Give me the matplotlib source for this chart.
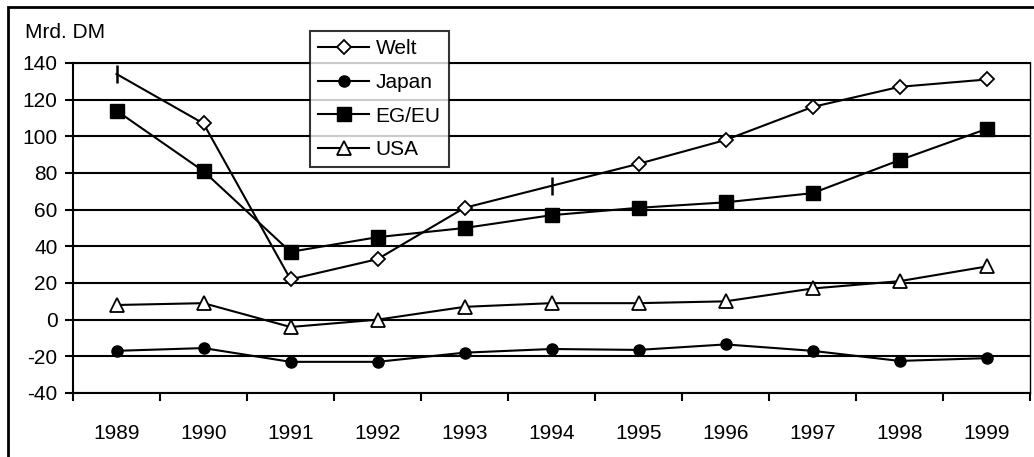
import matplotlib.pyplot as plt
from matplotlib.patches import Rectangle

plt.rcParams['font.family'] = ['Liberation Sans', 'DejaVu Sans']

years = ['1989', '1990', '1991', '1992', '1993', '1994', '1995', '1996', '1997', '1998', '1999']
welt = [134, 107, 22, 33, 61, 73, 85, 98, 116, 127, 131]
japan = [-17, -15.5, -23, -23, -18, -16, -16.5, -13.5, -17, -22.5, -21]
eg_eu = [114, 81, 37, 45, 50, 57, 61, 64, 69, 87, 104]
usa = [8, 9, -4, 0, 7, 9, 9, 10, 17, 21, 29]
# Welt-Punkte, die im Original nur als senkrechter Strich erscheinen
welt_tick_idx = [0, 5]

W, H = 1034, 457
fs = 15
fig = plt.figure(figsize=(W / 100, H / 100), dpi=100)
ax = fig.add_axes([73 / W, 1 - 393 / H, (1030 - 73) / W, (393 - 63) / H])

x = list(range(len(years)))
lw = 1.5
welt_diamond = [i for i in x if i not in welt_tick_idx]
ax.plot(x, welt, color='black', lw=lw, marker='D', ms=7, mfc='white', mec='black',
        mew=1.3, markevery=welt_diamond, label='Welt', zorder=3)
ax.plot([x[i] for i in welt_tick_idx], [welt[i] for i in welt_tick_idx], ls='none',
        marker='|', ms=13, mew=1.8, color='black', zorder=3)
ax.plot(x, japan, color='black', lw=lw, marker='o', ms=8, label='Japan', zorder=3)
ax.plot(x, eg_eu, color='black', lw=lw, marker='s', ms=10, label='EG/EU', zorder=3)
ax.plot(x, usa, color='black', lw=lw, marker='^', ms=10, mfc='white', mec='black',
        mew=1.3, label='USA', zorder=3)

ax.set_xlim(-0.5, len(years) - 0.5)
ax.set_ylim(-40, 140)
ax.set_yticks(range(-40, 141, 20))
ax.set_yticklabels([str(v) for v in range(-40, 141, 20)], fontsize=fs)
ax.set_xticks(x)
ax.set_xticklabels(years, fontsize=fs)
ax.set_xticks([i - 0.5 for i in range(len(years) + 1)], minor=True)
ax.tick_params(axis='x', which='major', length=0, pad=22)
ax.tick_params(axis='x', which='minor', length=6, width=1.5, direction='out')
ax.tick_params(axis='y', length=6, width=1.5, direction='out', pad=5)
ax.yaxis.grid(True, color='black', lw=1.5)
ax.set_axisbelow(True)
for s in ax.spines.values():
    s.set_linewidth(1.5)
ax.spines['right'].set_linewidth(1.0)

fig.text(25 / W, 1 - 33 / H, 'Mrd. DM', fontsize=fs, va='center', ha='left')

leg = fig.legend(loc='upper left', bbox_to_anchor=(310 / W, 1 - 31 / H), fontsize=fs,
                 frameon=True, fancybox=False, edgecolor='black', borderpad=0.4,
                 handlelength=2.45, handletextpad=0.3, labelspacing=0.7, borderaxespad=0)
leg.get_frame().set_linewidth(1.5)

fig.patches.append(Rectangle((8 / W, -0.05), 1.1, 1.05 - 7 / H, transform=fig.transFigure,
                             fill=False, edgecolor='black', lw=2))

fig.savefig('out.png', dpi=100)
